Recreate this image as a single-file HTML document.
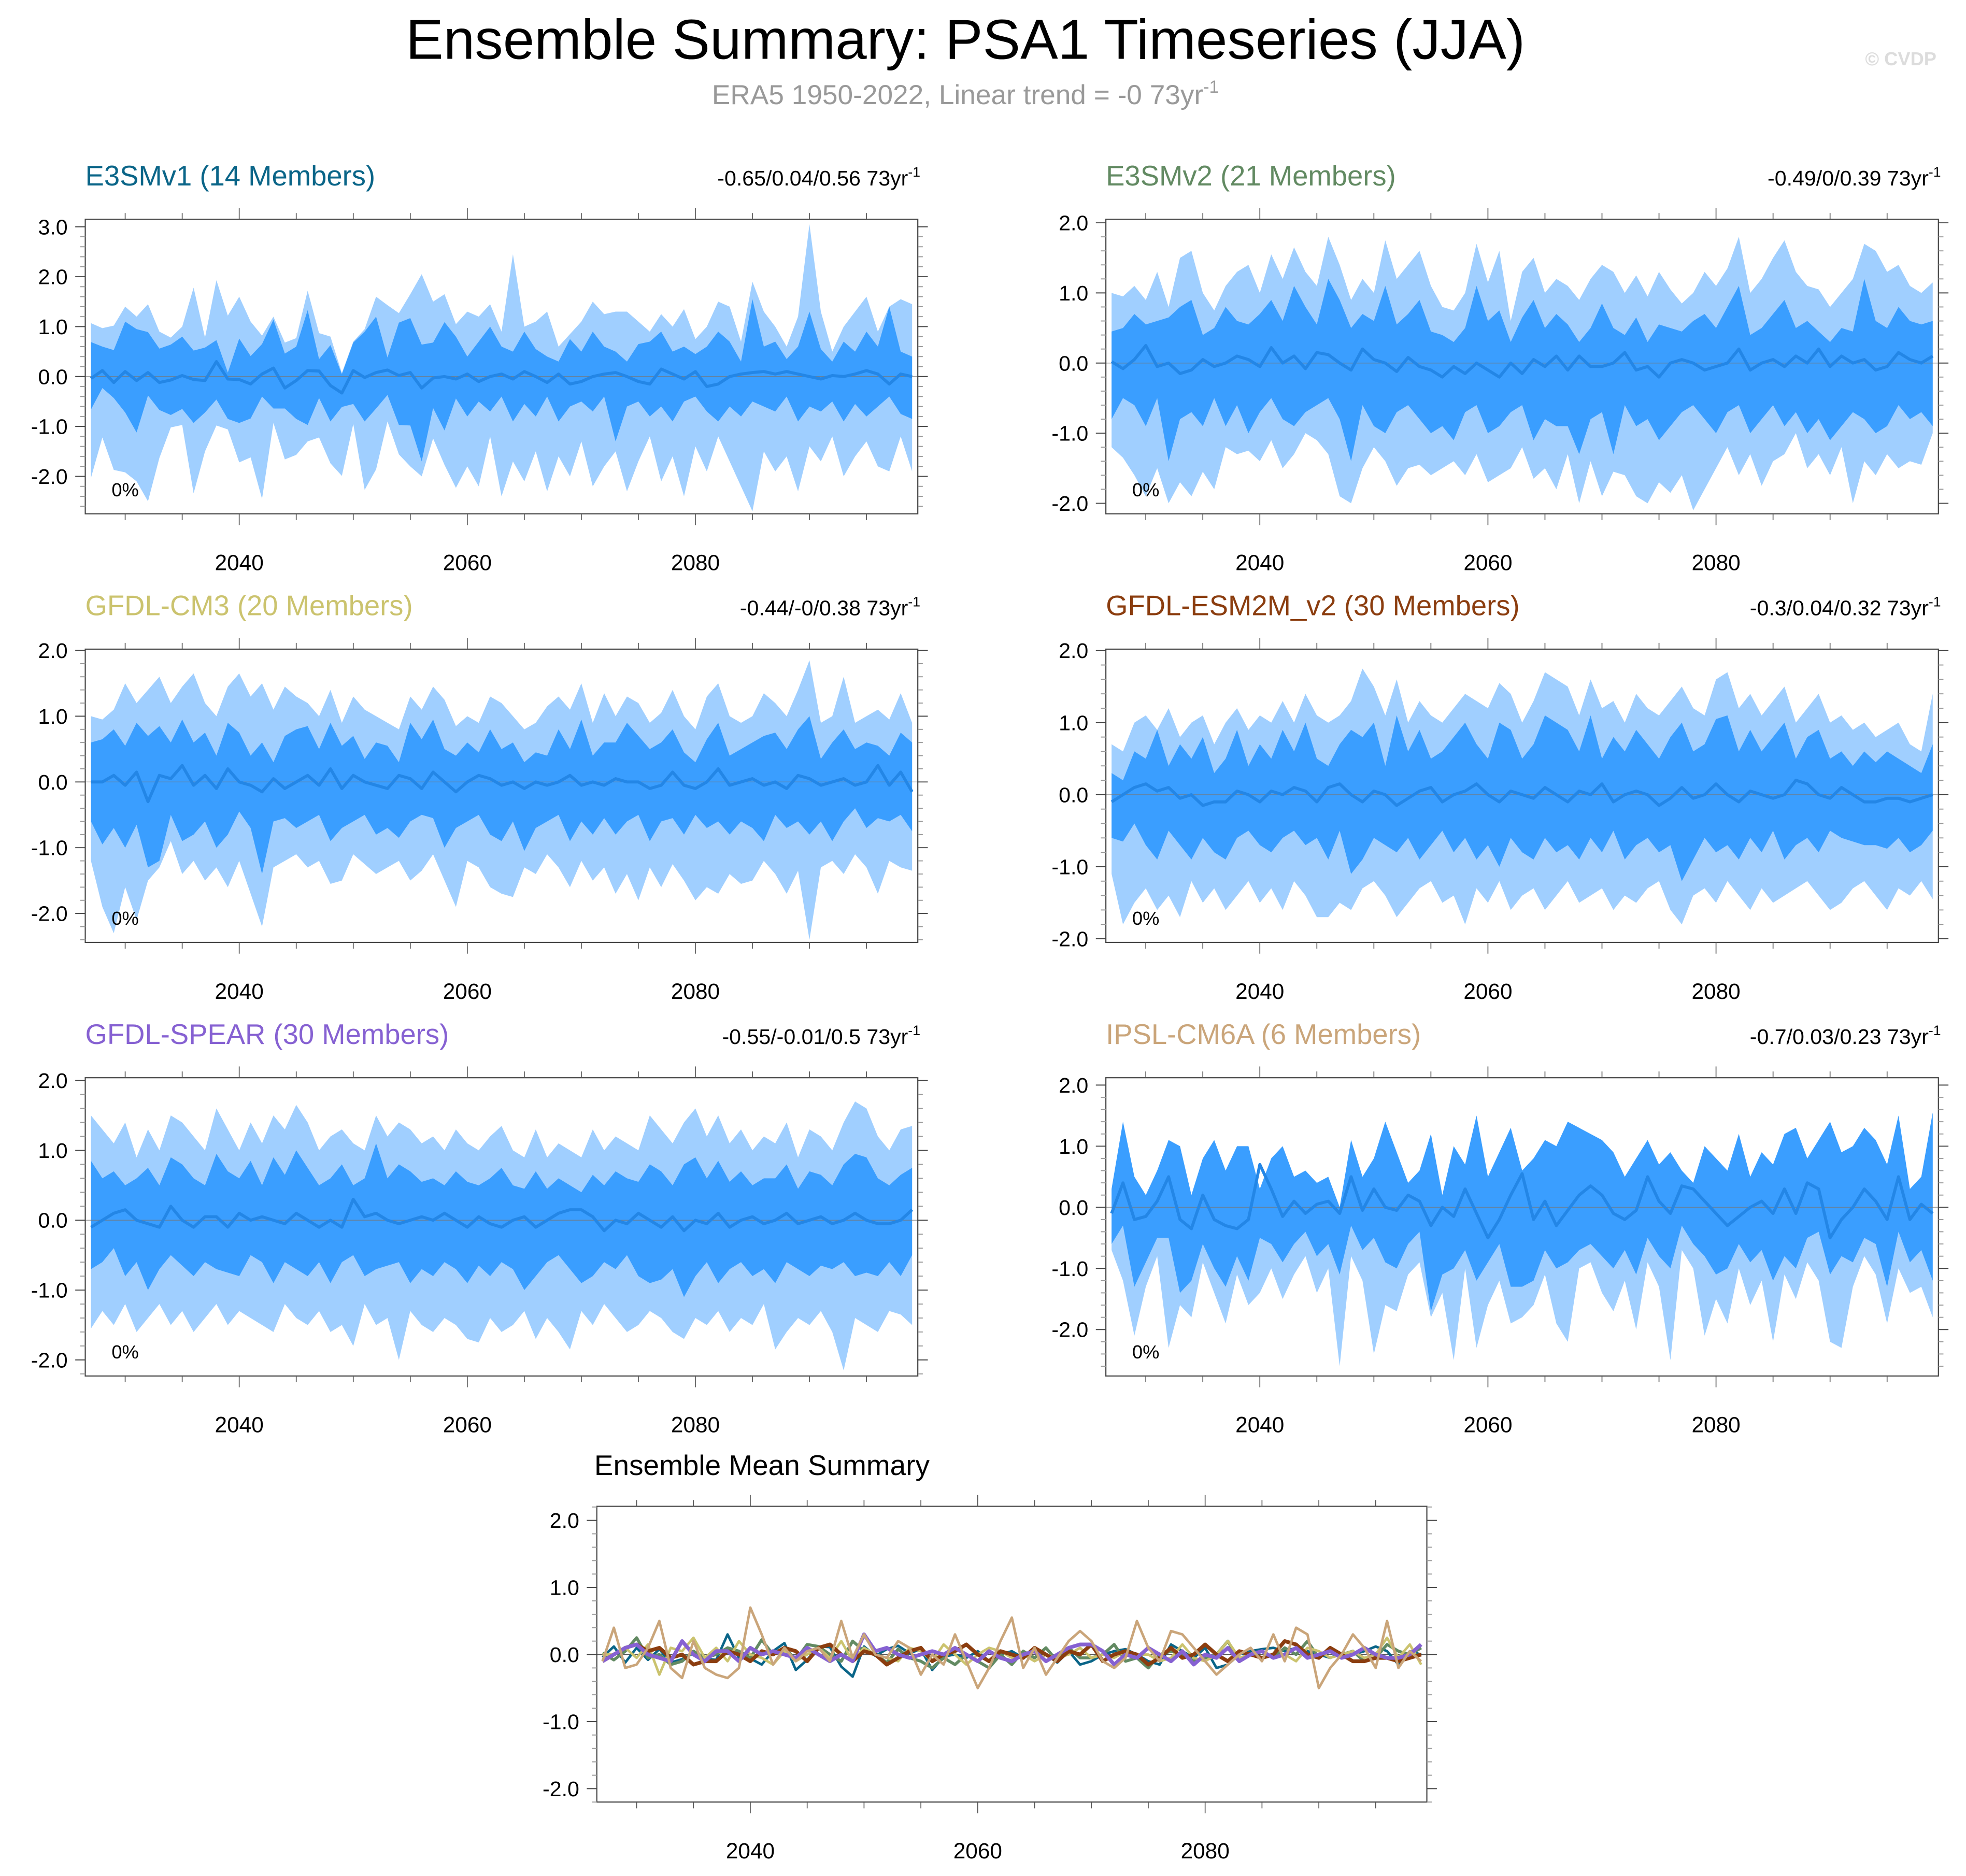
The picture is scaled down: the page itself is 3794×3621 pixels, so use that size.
<!DOCTYPE html>
<html><head><meta charset="utf-8"><style>
html,body{margin:0;padding:0;background:#fff;}
svg{display:block;font-family:"Liberation Sans",sans-serif;}
</style></head><body>
<svg id="chart" width="3794" height="3621" viewBox="0 0 1568 1497" preserveAspectRatio="none" xmlns="http://www.w3.org/2000/svg">
<rect x="0" y="0" width="1568" height="1497" fill="#fff"/>
<text x="770" y="47" font-size="45" text-anchor="middle" fill="#000">Ensemble Summary: PSA1 Timeseries (JJA)</text>
<text x="770" y="83" font-size="22" text-anchor="middle" fill="#999">ERA5 1950-2022, Linear trend = -0 73yr<tspan font-size="14" dy="-9">-1</tspan></text>
<text x="1516" y="52" font-size="15" font-weight="bold" text-anchor="middle" fill="#dcdcdc">© CVDP</text>
<g id="panels"></g>
</svg>
<script>
const startYear = 2027;
const xTickLabels = ["2040","2060","2080"];

const max1=[1.07,0.97,1.02,1.4,1.2,1.45,0.9,0.78,1.0,1.78,0.78,1.93,1.22,1.6,1.1,0.82,1.2,0.68,0.77,1.72,0.87,0.8,0.07,0.7,0.95,1.6,1.43,1.27,1.65,2.05,1.5,1.65,1.05,
1.3,1.2,1.45,0.9,2.45,1.0,1.1,1.3,0.6,0.85,1.1,1.5,1.25,1.3,1.3,1.1,0.9,1.25,1.0,1.35,0.75,1.0,1.5,1.4,0.7,1.9,1.3,1.0,0.6,1.2,3.05,1.3,0.5,1.0,1.3,1.6,0.9,1.4,1.55,1.45];
const hi1=[0.69,0.6,0.53,1.1,0.95,0.89,0.56,0.64,0.8,0.52,0.58,0.73,0.08,0.76,0.41,0.65,1.14,0.46,0.6,1.33,0.35,0.63,0.05,0.68,0.9,1.2,0.38,1.08,1.17,0.64,0.68,1.09,0.8,
0.4,0.7,1.0,0.6,0.5,0.9,0.55,0.4,0.3,0.75,0.5,0.9,0.6,0.5,0.3,0.65,0.7,0.9,0.5,0.6,0.45,0.6,0.9,0.7,0.3,1.55,0.6,0.7,0.35,0.6,1.3,0.55,0.3,0.7,0.5,0.9,0.6,1.4,0.5,0.4];
const mean1=[-0.04,0.12,-0.12,0.1,-0.08,0.08,-0.12,-0.07,0.02,-0.06,-0.08,0.3,-0.05,-0.06,-0.15,0.05,0.17,-0.23,-0.08,0.12,0.11,-0.18,-0.33,0.12,-0.02,0.08,0.13,0.02,0.08,-0.23,-0.03,0.0,-0.05,
0.05,-0.1,0.0,0.05,-0.05,0.1,0.0,-0.12,0.05,-0.15,-0.1,0.0,0.05,0.08,0.0,-0.1,-0.15,0.15,0.05,-0.05,0.1,-0.2,-0.15,0.0,0.05,0.08,0.1,0.05,0.1,0.05,0.0,-0.05,0.02,0.0,0.05,0.12,0.05,-0.15,0.05,0.0];
const lo1=[-0.66,-0.23,-0.43,-0.72,-1.12,-0.38,-0.67,-0.77,-0.65,-0.93,-0.72,-0.46,-0.85,-0.93,-0.84,-0.4,-0.64,-0.64,-0.85,-0.97,-0.43,-0.9,-0.61,-0.55,-0.9,-0.64,-0.37,-0.97,-0.98,-1.7,-0.63,-1.08,-0.44,
-0.8,-0.5,-0.7,-0.4,-0.9,-0.55,-0.8,-0.4,-0.9,-0.6,-0.5,-0.7,-0.4,-1.3,-0.6,-0.5,-0.8,-0.6,-0.9,-0.5,-0.4,-0.7,-0.9,-0.6,-0.8,-0.5,-0.6,-0.7,-0.4,-0.9,-0.6,-0.7,-0.5,-0.9,-0.55,-0.8,-0.6,-0.4,-0.75,-0.85];
const min1=[-2.03,-1.22,-1.87,-1.92,-2.1,-2.5,-1.63,-1.02,-0.97,-2.34,-1.5,-0.98,-1.06,-1.72,-1.62,-2.45,-0.93,-1.66,-1.57,-1.3,-1.22,-1.74,-1.99,-0.95,-2.27,-1.86,-0.9,-1.56,-1.8,-2.0,-1.24,-1.77,-2.23,
-1.8,-2.2,-1.2,-2.4,-1.7,-2.1,-1.5,-2.3,-1.6,-2.0,-1.3,-2.2,-1.8,-1.5,-2.3,-1.7,-1.2,-2.1,-1.6,-2.4,-1.4,-1.9,-1.2,-1.7,-2.2,-2.7,-1.5,-1.9,-1.6,-2.3,-1.4,-1.7,-1.2,-2.0,-1.6,-1.3,-1.8,-1.9,-1.2,-1.9];

const max2=[1.0,0.95,1.1,0.9,1.3,0.8,1.5,1.6,1.0,0.75,1.1,1.3,1.4,1.0,1.55,1.2,1.65,1.3,1.1,1.8,1.4,0.9,1.2,1.0,1.75,1.2,1.4,1.6,1.1,0.8,0.75,1.0,1.7,1.15,1.6,0.6,1.3,1.5,1.0,1.2,1.1,0.9,1.2,1.4,1.3,1.0,1.25,0.95,1.3,1.05,0.85,1.0,1.3,1.1,1.35,1.8,1.0,1.2,1.5,1.75,1.3,1.1,1.05,0.8,1.0,1.2,1.7,1.6,1.3,1.4,1.1,1.0,1.15];
const hi2=[0.45,0.5,0.7,0.55,0.6,0.65,0.8,0.9,0.4,0.5,0.8,0.6,0.55,0.7,0.9,0.6,1.1,0.8,0.55,1.2,0.9,0.5,0.7,0.6,1.1,0.55,0.7,0.9,0.45,0.4,0.3,0.5,1.1,0.6,0.75,0.3,0.65,0.9,0.5,0.7,0.55,0.3,0.5,0.85,0.5,0.4,0.65,0.3,0.55,0.5,0.45,0.6,0.7,0.5,0.8,1.1,0.4,0.5,0.7,0.9,0.5,0.6,0.45,0.3,0.5,0.45,1.2,0.6,0.5,0.8,0.6,0.55,0.6];
const mean2=[0.02,-0.08,0.05,0.25,-0.05,0.0,-0.15,-0.1,0.05,-0.05,0.0,0.1,0.05,-0.05,0.22,0.0,0.1,-0.08,0.15,0.12,0.0,-0.1,0.2,0.05,0.0,-0.12,0.08,-0.05,-0.1,-0.2,-0.05,-0.15,0.0,-0.1,-0.2,0.0,-0.15,0.05,-0.05,0.1,-0.1,0.1,-0.05,-0.05,0.0,0.15,-0.1,-0.05,-0.2,0.0,0.05,0.0,-0.1,-0.05,0.0,0.2,-0.1,0.0,0.05,-0.05,0.1,0.0,0.2,-0.05,0.1,0.0,0.05,-0.1,-0.05,0.15,0.05,0.0,0.1];
const lo2=[-0.8,-0.5,-0.6,-0.9,-0.5,-1.4,-0.8,-0.7,-0.9,-0.5,-0.9,-0.6,-1.0,-0.7,-0.5,-0.8,-0.9,-0.7,-0.6,-0.5,-0.8,-1.4,-0.6,-0.9,-1.0,-0.7,-0.6,-0.8,-1.0,-0.9,-1.1,-0.7,-0.6,-1.0,-0.9,-0.7,-0.6,-1.1,-0.8,-0.9,-0.9,-1.3,-0.8,-0.7,-1.3,-0.6,-0.9,-0.8,-1.1,-0.9,-0.7,-0.6,-0.8,-1.0,-0.7,-0.6,-1.0,-0.8,-0.6,-0.9,-0.7,-1.0,-0.8,-1.1,-0.9,-0.7,-0.8,-1.0,-0.9,-0.6,-0.8,-0.7,-0.9];
const min2=[-1.2,-1.35,-1.6,-1.9,-1.5,-2.0,-1.7,-1.9,-1.55,-1.8,-1.2,-1.3,-1.25,-1.4,-1.1,-1.5,-1.3,-1.0,-1.1,-1.3,-1.9,-2.0,-1.5,-1.2,-1.4,-1.75,-1.5,-1.45,-1.6,-1.5,-1.4,-1.6,-1.3,-1.7,-1.6,-1.5,-1.2,-1.65,-1.5,-1.8,-1.3,-2.0,-1.4,-1.9,-1.55,-1.6,-1.9,-2.0,-1.7,-1.85,-1.6,-2.1,-1.8,-1.5,-1.2,-1.6,-1.3,-1.75,-1.4,-1.3,-1.0,-1.5,-1.3,-1.6,-1.2,-2.0,-1.4,-1.6,-1.3,-1.5,-1.4,-1.45,-1.0];

const max3=[1.0,0.95,1.1,1.5,1.2,1.4,1.6,1.2,1.45,1.65,1.2,1.0,1.45,1.65,1.3,1.5,1.1,1.45,1.3,1.2,1.0,1.4,0.9,1.3,1.1,1.0,0.9,0.8,1.3,1.1,1.45,1.25,0.85,1.0,0.9,1.3,1.2,1.0,0.8,0.9,1.15,1.3,1.1,1.5,0.9,1.35,1.0,1.3,1.2,0.9,1.05,1.4,1.0,0.8,1.3,1.5,1.0,0.9,1.0,1.35,1.2,1.0,1.4,1.85,0.9,1.0,1.6,0.9,1.0,1.1,0.95,1.35,0.9];
const hi3=[0.6,0.65,0.8,0.55,0.9,0.7,0.85,0.6,0.95,0.6,0.75,0.4,0.9,0.75,0.4,0.6,0.3,0.7,0.8,0.85,0.5,0.9,0.55,0.7,0.35,0.6,0.55,0.3,0.9,0.65,0.95,0.5,0.4,0.6,0.45,0.8,0.5,0.6,0.3,0.45,0.4,0.8,0.5,0.95,0.4,0.6,0.6,0.9,0.7,0.5,0.6,0.8,0.45,0.3,0.65,0.9,0.4,0.5,0.6,0.7,0.75,0.5,0.8,1.0,0.35,0.6,0.8,0.5,0.6,0.55,0.4,0.75,0.6];
const mean3=[0.0,0.0,0.1,-0.05,0.15,-0.3,0.1,0.05,0.25,-0.05,0.1,-0.1,0.2,0.0,-0.05,-0.15,0.05,-0.1,0.0,0.1,-0.05,0.2,-0.1,0.1,0.0,-0.05,-0.1,0.1,0.05,-0.1,0.15,0.0,-0.15,0.0,0.1,0.05,-0.05,0.0,-0.1,0.0,-0.05,0.0,0.1,-0.05,0.0,-0.05,0.05,0.0,0.0,-0.1,-0.05,0.15,-0.05,-0.1,0.0,0.2,-0.05,0.0,0.05,-0.05,0.0,-0.1,0.1,0.05,-0.05,0.0,0.05,-0.05,0.0,0.25,-0.05,0.15,-0.15];
const lo3=[-0.6,-0.95,-0.7,-1.0,-0.65,-1.3,-1.2,-0.5,-0.9,-0.8,-0.6,-1.0,-0.8,-0.45,-0.7,-1.4,-0.6,-0.55,-0.7,-0.6,-0.5,-0.9,-0.7,-0.6,-0.5,-0.8,-0.7,-0.85,-0.6,-0.5,-0.55,-1.0,-0.7,-0.6,-0.5,-0.8,-0.9,-0.6,-1.05,-0.7,-0.6,-0.5,-0.9,-0.6,-0.8,-0.55,-0.8,-0.6,-0.5,-0.9,-0.6,-0.55,-0.8,-0.5,-0.7,-0.6,-0.8,-0.6,-0.7,-0.9,-0.5,-0.7,-0.6,-0.8,-0.6,-0.9,-0.6,-0.4,-0.7,-0.55,-0.6,-0.5,-0.75];
const min3=[-1.2,-1.9,-2.3,-1.6,-2.1,-1.5,-1.3,-0.9,-1.4,-1.2,-1.5,-1.3,-1.6,-1.2,-1.7,-2.2,-1.3,-1.2,-1.1,-1.3,-1.2,-1.55,-1.5,-1.1,-1.25,-1.4,-1.3,-1.2,-1.5,-1.35,-1.1,-1.5,-1.9,-1.2,-1.3,-1.6,-1.7,-1.75,-1.3,-1.4,-1.1,-1.3,-1.6,-1.2,-1.5,-1.3,-1.7,-1.4,-1.8,-1.3,-1.6,-1.25,-1.5,-1.8,-1.6,-1.7,-1.4,-1.55,-1.5,-1.2,-1.4,-1.7,-1.35,-2.4,-1.3,-1.2,-1.4,-1.1,-1.3,-1.7,-1.2,-1.3,-1.35];

const max4=[0.7,0.6,1.0,1.1,0.9,1.2,0.8,1.0,1.1,0.7,1.0,1.2,0.9,1.1,1.0,1.3,1.0,1.4,1.1,1.0,1.1,1.3,1.75,1.5,1.1,1.6,1.0,1.3,1.1,1.0,1.2,1.4,1.3,1.2,1.55,1.4,1.0,1.3,1.7,1.6,1.5,1.1,1.6,1.2,1.3,1.0,1.4,1.2,1.1,1.3,1.5,1.2,1.1,1.6,1.7,1.2,1.4,1.1,1.3,1.5,1.0,1.2,1.4,1.0,1.1,0.9,1.0,0.8,0.9,1.0,0.7,0.6,1.4];
const hi4=[0.3,0.2,0.6,0.5,0.9,0.4,0.7,0.5,0.8,0.3,0.5,0.9,0.4,0.7,0.5,0.9,0.6,1.0,0.5,0.4,0.7,0.9,0.8,1.0,0.4,1.1,0.6,0.9,0.5,0.6,0.8,1.0,0.7,0.5,1.0,0.9,0.5,0.7,1.1,1.0,0.9,0.6,1.1,0.5,0.8,0.6,0.9,0.7,0.5,0.8,1.0,0.6,0.7,1.05,1.1,0.6,0.9,0.6,0.8,1.0,0.5,0.8,0.9,0.5,0.6,0.4,0.6,0.45,0.6,0.5,0.4,0.3,0.7];
const mean4=[-0.1,0.0,0.1,0.15,0.05,0.1,-0.05,0.0,-0.15,-0.1,-0.1,0.05,0.0,-0.1,0.05,0.0,0.1,0.05,-0.1,0.1,0.15,0.0,-0.1,0.05,0.0,-0.15,-0.05,0.05,0.1,-0.1,0.0,0.05,0.15,0.0,-0.1,0.05,0.0,-0.05,0.1,0.0,-0.1,0.05,0.0,0.15,-0.1,0.0,0.05,0.0,-0.15,-0.05,0.1,-0.05,0.0,0.15,0.0,-0.1,0.05,0.0,-0.05,0.0,0.2,0.15,0.0,-0.05,0.1,0.0,-0.1,-0.1,-0.05,-0.05,-0.1,-0.05,0.0];
const lo4=[-0.6,-0.65,-0.4,-0.7,-0.9,-0.5,-0.7,-0.9,-0.6,-0.8,-0.9,-0.6,-0.5,-0.7,-0.8,-0.6,-0.5,-0.7,-0.6,-0.9,-0.5,-1.1,-0.9,-0.6,-0.7,-0.8,-0.6,-0.9,-0.7,-0.5,-0.8,-0.6,-0.9,-0.7,-1.0,-0.6,-0.8,-0.9,-0.6,-0.8,-0.7,-0.9,-0.6,-0.8,-0.5,-0.9,-0.7,-0.6,-0.8,-0.7,-1.2,-0.9,-0.6,-0.8,-0.7,-0.9,-0.6,-0.8,-0.5,-0.9,-0.7,-0.6,-0.8,-0.5,-0.6,-0.65,-0.7,-0.7,-0.75,-0.6,-0.8,-0.7,-0.5];
const min4=[-1.1,-1.8,-1.5,-1.3,-1.6,-1.4,-1.7,-1.2,-1.5,-1.3,-1.6,-1.4,-1.2,-1.5,-1.3,-1.6,-1.2,-1.4,-1.7,-1.7,-1.5,-1.6,-1.3,-1.2,-1.4,-1.7,-1.5,-1.3,-1.2,-1.5,-1.4,-1.8,-1.3,-1.5,-1.2,-1.6,-1.4,-1.3,-1.6,-1.4,-1.2,-1.5,-1.4,-1.3,-1.6,-1.4,-1.5,-1.3,-1.2,-1.6,-1.8,-1.4,-1.3,-1.5,-1.2,-1.4,-1.6,-1.3,-1.5,-1.4,-1.3,-1.2,-1.4,-1.6,-1.5,-1.3,-1.2,-1.4,-1.6,-1.3,-1.4,-1.2,-1.45];

const max5=[1.5,1.3,1.1,1.4,0.9,1.3,1.0,1.5,1.4,1.2,1.0,1.6,1.3,1.0,1.4,1.1,1.5,1.3,1.65,1.4,1.0,1.2,1.3,1.1,1.0,1.5,1.2,1.4,1.3,1.1,1.2,1.0,1.3,1.1,1.0,1.2,1.35,1.0,0.9,1.3,0.9,1.1,1.0,0.9,1.3,1.0,1.2,1.1,1.0,1.5,1.3,1.1,1.4,1.6,1.2,1.5,1.1,1.3,1.0,1.2,1.1,1.4,0.9,1.3,1.2,1.0,1.4,1.7,1.6,1.2,1.0,1.3,1.35];
const hi5=[0.85,0.6,0.7,0.5,0.6,0.75,0.5,0.9,0.8,0.6,0.5,0.95,0.7,0.6,0.85,0.5,0.9,0.65,1.0,0.75,0.5,0.6,0.8,0.5,0.6,1.1,0.6,0.8,0.7,0.55,0.6,0.5,0.7,0.55,0.5,0.6,0.75,0.5,0.45,0.7,0.45,0.6,0.5,0.4,0.65,0.5,0.7,0.6,0.55,0.8,0.7,0.5,0.8,0.9,0.6,0.85,0.55,0.7,0.5,0.6,0.6,0.8,0.45,0.7,0.65,0.5,0.8,0.95,0.9,0.6,0.5,0.65,0.75];
const mean5=[-0.1,0.0,0.1,0.15,0.0,-0.05,-0.1,0.2,0.0,-0.1,0.05,0.05,-0.1,0.1,0.0,0.05,0.0,-0.05,0.1,0.0,-0.1,0.0,-0.1,0.3,0.05,0.1,0.0,-0.05,0.0,0.05,0.0,0.1,0.0,-0.1,0.05,-0.05,-0.1,0.0,0.05,-0.1,0.0,0.1,0.15,0.15,0.05,-0.15,0.0,-0.05,0.1,0.0,-0.1,0.05,-0.15,0.0,-0.05,0.1,-0.1,0.0,0.05,-0.05,0.0,0.1,-0.05,0.0,0.05,-0.05,0.0,0.1,0.0,-0.05,-0.05,0.0,0.15];
const lo5=[-0.7,-0.6,-0.4,-0.8,-0.6,-1.0,-0.7,-0.5,-0.65,-0.8,-0.6,-0.7,-0.75,-0.8,-0.5,-0.6,-0.9,-0.6,-0.7,-0.8,-0.6,-0.9,-0.6,-0.5,-0.8,-0.7,-0.65,-0.6,-0.9,-0.7,-0.8,-0.6,-0.7,-0.9,-0.65,-0.8,-0.6,-0.7,-1.0,-0.8,-0.6,-0.5,-0.7,-0.9,-0.8,-0.6,-0.7,-0.5,-0.8,-0.9,-0.85,-0.7,-1.1,-0.8,-0.6,-0.9,-0.7,-0.6,-0.8,-0.7,-0.9,-0.6,-0.7,-0.8,-0.65,-0.7,-0.6,-0.8,-0.75,-0.8,-0.6,-0.8,-0.5];
const min5=[-1.55,-1.3,-1.5,-1.2,-1.6,-1.4,-1.2,-1.5,-1.3,-1.6,-1.4,-1.2,-1.5,-1.3,-1.4,-1.5,-1.6,-1.2,-1.4,-1.5,-1.3,-1.6,-1.5,-1.8,-1.2,-1.5,-1.4,-2.0,-1.3,-1.5,-1.6,-1.4,-1.5,-1.7,-1.75,-1.4,-1.6,-1.5,-1.3,-1.7,-1.4,-1.6,-1.85,-1.3,-1.5,-1.2,-1.4,-1.6,-1.5,-1.3,-1.4,-1.6,-1.7,-1.4,-1.5,-1.3,-1.6,-1.4,-1.5,-1.2,-1.85,-1.6,-1.4,-1.5,-1.3,-1.6,-2.15,-1.4,-1.5,-1.6,-1.3,-1.35,-1.5];

const hi6=[0.3,1.4,0.5,0.2,0.6,1.1,1.0,0.2,0.8,1.1,0.6,1.0,1.0,0.3,0.8,1.0,0.5,0.6,0.4,0.5,0.0,1.1,0.5,0.8,1.4,0.9,0.4,0.6,1.2,0.2,1.0,0.7,1.5,0.5,0.9,1.3,0.6,0.8,1.1,1.0,1.4,1.3,1.2,1.1,0.9,0.5,0.8,1.1,0.7,0.9,0.6,0.4,1.0,0.8,0.6,1.2,0.5,0.9,0.7,1.2,1.3,0.8,1.1,1.4,0.9,1.0,1.3,1.1,0.7,1.5,0.3,0.5,1.55];
const max6=[0.3,1.4,0.5,0.2,0.6,1.1,1.0,0.2,0.8,1.1,0.6,1.0,1.0,0.3,0.8,1.0,0.5,0.6,0.4,0.5,0.0,1.1,0.5,0.8,1.4,0.9,0.4,0.6,1.2,0.2,1.0,0.7,1.5,0.5,0.9,1.3,0.6,0.8,1.1,1.0,1.4,1.3,1.2,1.1,0.9,0.5,0.8,1.1,0.7,0.9,0.6,0.4,1.0,0.8,0.6,1.2,0.5,0.9,0.7,1.2,1.3,0.8,1.1,1.4,0.9,1.0,1.3,1.1,0.7,1.5,0.3,0.5,1.55];
const mean6=[-0.1,0.4,-0.2,-0.15,0.1,0.5,-0.2,-0.35,0.2,-0.2,-0.3,-0.35,-0.2,0.7,0.3,-0.15,0.1,-0.1,0.05,0.1,-0.1,0.5,-0.05,0.3,0.0,-0.05,0.2,0.1,-0.3,0.0,-0.15,0.3,-0.1,-0.5,-0.2,0.2,0.55,-0.2,0.1,-0.3,-0.05,0.2,0.35,0.2,-0.1,-0.2,-0.05,0.5,0.1,-0.1,0.35,0.3,0.1,-0.1,-0.3,-0.15,0.0,0.1,-0.1,0.3,-0.1,0.4,0.3,-0.5,-0.2,0.0,0.3,0.1,-0.2,0.5,-0.2,0.05,-0.1];
const lo6=[-0.6,-0.3,-1.3,-0.9,-0.5,-0.5,-1.4,-1.2,-0.6,-1.0,-1.3,-0.8,-1.2,-0.5,-0.6,-0.9,-0.6,-0.4,-0.8,-0.6,-1.1,-0.3,-0.7,-0.5,-0.9,-1.0,-0.6,-0.4,-1.7,-1.1,-1.0,-0.7,-1.2,-0.9,-0.6,-1.3,-1.3,-1.2,-0.7,-1.0,-0.9,-0.7,-0.6,-0.8,-1.0,-0.7,-1.1,-0.5,-0.8,-1.0,-0.3,-0.6,-0.8,-1.1,-1.0,-0.6,-0.9,-0.7,-1.2,-0.8,-1.0,-0.5,-0.4,-1.1,-0.8,-0.9,-0.5,-0.6,-1.3,-0.4,-0.9,-0.7,-1.2];
const min6=[-0.7,-1.2,-2.1,-1.3,-0.8,-2.3,-1.6,-1.8,-0.9,-1.4,-1.9,-1.1,-1.6,-1.4,-1.0,-1.5,-1.1,-0.8,-1.4,-1.0,-2.6,-0.8,-1.2,-2.4,-1.6,-1.7,-1.1,-0.9,-1.8,-1.4,-2.5,-1.0,-2.3,-1.6,-1.2,-1.9,-1.8,-1.6,-1.1,-1.9,-2.2,-1.0,-0.9,-1.4,-1.7,-1.2,-2.0,-0.9,-1.3,-2.5,-0.7,-1.0,-2.1,-1.5,-1.9,-1.0,-1.6,-1.2,-2.2,-1.1,-1.5,-0.9,-1.2,-2.2,-2.3,-1.3,-0.8,-1.1,-1.9,-1.0,-1.4,-1.3,-1.8];

const NS="http://www.w3.org/2000/svg";
const root=document.getElementById('panels');
function mk(tag,attrs,parent){const e=document.createElementNS(NS,tag);for(const k in attrs)e.setAttribute(k,attrs[k]);(parent||root).appendChild(e);return e;}
const XMIN=2026.5,XMAX=2099.5;

function axes(g,p){
  const sx=v=>p.x0+(v-XMIN)/(XMAX-XMIN)*(p.x1-p.x0);
  const sy=v=>p.y1-(v-p.ymin)/(p.ymax-p.ymin)*(p.y1-p.y0);
  return {sx,sy};
}
function frame(g,p,sx,sy){
  const f=mk('rect',{x:p.x0,y:p.y0,width:p.x1-p.x0,height:p.y1-p.y0,fill:'none',stroke:'#444','stroke-width':0.9},g);
  
  
  for(let yr=2030;yr<=2095;yr+=5){
    const x=sx(yr);const L=(yr%20===0)?9:5;
    mk('line',{x1:x,x2:x,y1:p.y0,y2:p.y0-L,stroke:'#555','stroke-width':0.7},g);
    mk('line',{x1:x,x2:x,y1:p.y1,y2:p.y1+L,stroke:'#555','stroke-width':0.7},g);
  }
  xTickLabels.forEach(t=>{
    const tx=mk('text',{x:sx(+t),y:p.y1+45,'font-size':17.5,'text-anchor':'middle',fill:'#000'},g);
    tx.textContent=t;
    
    
  });
  const lo=Math.ceil(p.ymin*5-1e-6),hi=Math.floor(p.ymax*5+1e-6);
  for(let k=lo;k<=hi;k++){
    const v=k/5,y=sy(v),major=(k%5===0),L=major?8:4;
    mk('line',{x1:p.x0,x2:p.x0-L,y1:y,y2:y,stroke:major?'#444':'#999','stroke-width':0.8},g);
    mk('line',{x1:p.x1,x2:p.x1+L,y1:y,y2:y,stroke:major?'#444':'#999','stroke-width':0.8},g);
    if(major){
      const t=mk('text',{x:p.x0-14,y:y+6,'font-size':17,'text-anchor':'end',fill:'#000'},g);
      t.textContent=v.toFixed(1);
      
      
    }
  }
}
function linePath(arr,sx,sy){return arr.map((v,i)=>(i?'L':'M')+sx(startYear+i).toFixed(2)+','+sy(v).toFixed(2)).join('');}
function bandPath(top,bot,sx,sy){
  let d=top.map((v,i)=>(i?'L':'M')+sx(startYear+i).toFixed(2)+','+sy(v).toFixed(2)).join('');
  for(let i=bot.length-1;i>=0;i--)d+='L'+sx(startYear+i).toFixed(2)+','+sy(bot[i]).toFixed(2);
  return d+'Z';
}

const panels=[
 {name:'e3smv1',title:'E3SMv1 (14 Members)',color:'#0a6588',stats:'-0.65/0.04/0.56 73yr',x0:68,x1:732,y0:175,y1:410,ymin:-2.75,ymax:3.15,mx:max1,hi:hi1,mn:mean1,lo:lo1,mi:min1},
 {name:'e3smv2',title:'E3SMv2 (21 Members)',color:'#628a62',stats:'-0.49/0/0.39 73yr',x0:882,x1:1546,y0:175,y1:410,ymin:-2.15,ymax:2.05,mx:max2,hi:hi2,mn:mean2,lo:lo2,mi:min2},
 {name:'gfdl-cm3',title:'GFDL-CM3 (20 Members)',color:'#cbc36e',stats:'-0.44/-0/0.38 73yr',x0:68,x1:732,y0:518,y1:752,ymin:-2.44,ymax:2.02,mx:max3,hi:hi3,mn:mean3,lo:lo3,mi:min3},
 {name:'gfdl-esm2m',title:'GFDL-ESM2M_v2 (30 Members)',color:'#8b3d0f',stats:'-0.3/0.04/0.32 73yr',x0:882,x1:1546,y0:518,y1:752,ymin:-2.05,ymax:2.02,mx:max4,hi:hi4,mn:mean4,lo:lo4,mi:min4},
 {name:'gfdl-spear',title:'GFDL-SPEAR (30 Members)',color:'#8661d2',stats:'-0.55/-0.01/0.5 73yr',x0:68,x1:732,y0:860,y1:1098,ymin:-2.23,ymax:2.04,mx:max5,hi:hi5,mn:mean5,lo:lo5,mi:min5},
 {name:'ipsl-cm6a',title:'IPSL-CM6A (6 Members)',color:'#caa57a',stats:'-0.7/0.03/0.23 73yr',x0:882,x1:1546,y0:860,y1:1098,ymin:-2.76,ymax:2.12,mx:max6,hi:hi6,mn:mean6,lo:lo6,mi:min6}
];

panels.forEach(p=>{
  const g=mk('g',{});
  
  
  const {sx,sy}=axes(g,p);
  const a=mk('path',{d:bandPath(p.mx,p.mi,sx,sy),fill:'#a0cfff'},g);
  
  
  const b=mk('path',{d:bandPath(p.hi,p.lo,sx,sy),fill:'#3a9eff'},g);
  
  
  mk('line',{x1:p.x0,x2:p.x1,y1:sy(0),y2:sy(0),stroke:'#777','stroke-width':0.6,opacity:0.7},g);
  const m=mk('path',{d:linePath(p.mn,sx,sy),fill:'none',stroke:'#2386e6','stroke-width':2.4,'stroke-linejoin':'round'},g);
  
  
  frame(g,p,sx,sy);
  const t=mk('text',{x:p.x0,y:p.y0-27,'font-size':22.5,fill:p.color},g);
  t.textContent=p.title;
  
  
  const s=mk('text',{x:p.x1+2,y:p.y0-27,'font-size':17,'text-anchor':'end',fill:'#000'},g);
  s.textContent=p.stats;
  const sp=mk('tspan',{'font-size':11,dy:-7},s);sp.textContent='-1';
  
  
  const z=mk('text',{x:p.x0+21,y:p.y1-14,'font-size':15,fill:'#000'},g);
  z.textContent='0%';
  
  
});

// Ensemble mean summary
const summary={x0:476,x1:1138,y0:1202,y1:1438,ymin:-2.2,ymax:2.21};
const gs=mk('g',{});


{
  const {sx,sy}=axes(gs,summary);
  mk('line',{x1:summary.x0,x2:summary.x1,y1:sy(0),y2:sy(0),stroke:'#555','stroke-width':0.7},gs);
  const widths=[2,2.4,2,3,3,2];
  panels.forEach((p,i)=>{
    const l=mk('path',{d:linePath(p.mn,sx,sy),fill:'none',stroke:p.color,'stroke-width':widths[i],'stroke-linejoin':'round'},gs);
    
    
  });
  frame(gs,summary,sx,sy);
  const t=mk('text',{x:474,y:1177,'font-size':22.7,fill:'#000'},gs);
  t.textContent='Ensemble Mean Summary';
  
  
}
</script>
</body></html>
